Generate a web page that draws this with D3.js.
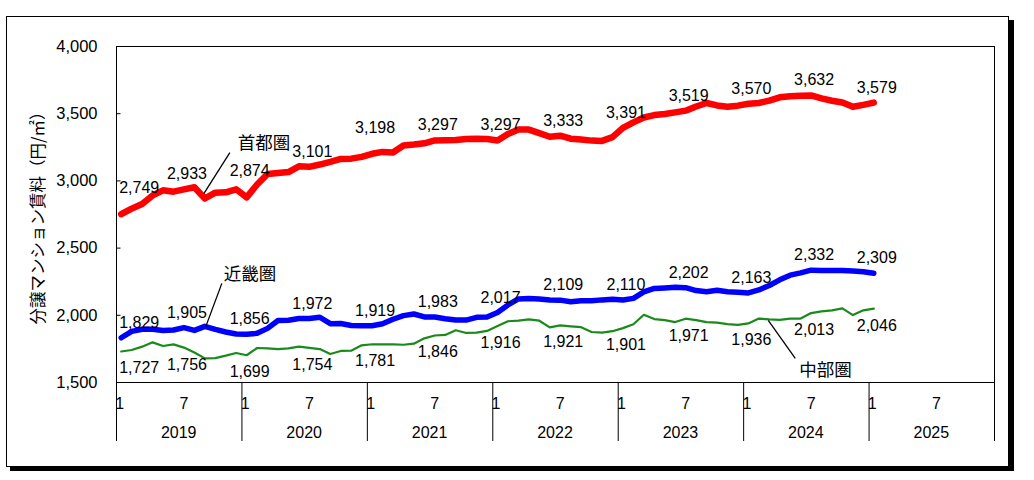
<!DOCTYPE html>
<html><head><meta charset="utf-8">
<script src="https://cdn.jsdelivr.net/npm/d3@7"></script>
<style>
html,body{margin:0;padding:0;background:#fff;}
svg{display:block;}
</style></head>
<body>
<svg id="c" width="1034" height="480"></svg>
<script>
// ---- data ----
const years = [2019, 2020, 2021, 2022, 2023, 2024, 2025];
const monthTicks = [1, 7];
const yTicks = [1500, 2000, 2500, 3000, 3500, 4000];
const yTitle = "分譲マンション賃料（円/㎡）";
const seriesNames = ["首都圏", "近畿圏", "中部圏"];

// monthly values Jan 2019 .. Jan 2025
const shutoken = [
  2749, 2790, 2825, 2888, 2926, 2916, 2933, 2949, 2865, 2909, 2911, 2934,
  2874, 2970, 3048, 3055, 3062, 3105, 3101, 3118, 3138, 3160, 3162, 3175,
  3198, 3212, 3208, 3260, 3267, 3276, 3297, 3298, 3300, 3308, 3310, 3308,
  3297, 3345, 3378, 3378, 3352, 3325, 3333, 3310, 3304, 3296, 3294, 3322,
  3391, 3432, 3468, 3486, 3494, 3506, 3519, 3550, 3576, 3558, 3548, 3556,
  3570, 3576, 3594, 3618, 3626, 3629, 3632, 3610, 3593, 3580, 3548, 3562,
  3579
];
const kinki = [
  1829, 1877, 1892, 1892, 1884, 1887, 1905, 1884, 1914, 1892, 1872, 1857,
  1856, 1862, 1899, 1958, 1960, 1973, 1972, 1982, 1934, 1935, 1920, 1919,
  1919, 1933, 1967, 1994, 2006, 1984, 1983, 1971, 1961, 1961, 1981, 1984,
  2017, 2073, 2118, 2122, 2118, 2110, 2109, 2097, 2104, 2104, 2111, 2116,
  2110, 2122, 2170, 2196, 2200, 2205, 2202, 2180, 2172, 2182, 2172, 2168,
  2163, 2185, 2218, 2260, 2295, 2312, 2332, 2330, 2330, 2330, 2326, 2320,
  2309
];
const chubu = [
  1727, 1738, 1763, 1795, 1768, 1780, 1756, 1720, 1676, 1678, 1696, 1716,
  1699, 1753, 1750, 1745, 1750, 1763, 1754, 1745, 1708, 1731, 1733, 1773,
  1781, 1780, 1780, 1777, 1785, 1825, 1846, 1850, 1885, 1865, 1868, 1880,
  1916, 1952, 1957, 1966, 1956, 1906, 1921, 1914, 1908, 1872, 1868, 1878,
  1901, 1930, 2000, 1968, 1960, 1946, 1971, 1960, 1946, 1942, 1930, 1925,
  1936, 1972, 1966, 1962, 1972, 1972, 2013, 2025, 2033, 2048, 1998, 2033,
  2046
];
// labels shown at January and July
const labelEvery = 6;

// ---- layout ----
const svg = d3.select("#c");
const L = 116, R = 994, T = 46, B = 382;
const numFont = "'Liberation Sans', Arial, sans-serif";
const jpFont = "'Noto Sans CJK JP', sans-serif";

// outer frame with shadow
svg.append("rect").attr("x", 10).attr("y", 20).attr("width", 1004).attr("height", 451).attr("fill", "#000");
svg.append("rect").attr("x", 6.5).attr("y", 16.5).attr("width", 1002).attr("height", 450)
  .attr("fill", "#fff").attr("stroke", "#000").attr("stroke-width", 1);

const nMonths = years.length * 12;
const x = d3.scaleBand().domain(d3.range(nMonths)).range([L, R]).paddingInner(0).paddingOuter(0);
const cx = i => x(i) + x.bandwidth() / 2;
const y = d3.scaleLinear().domain([1500, 4000]).range([B, T]);

// plot frame
svg.append("rect").attr("x", L + 0.5).attr("y", T + 0.5).attr("width", R - L).attr("height", B - T)
  .attr("fill", "none").attr("stroke", "#000").attr("stroke-width", 1);

// y axis
const yAxis = d3.axisLeft(y).tickValues(yTicks).tickSize(-4).tickPadding(19)
  .tickFormat(d3.format(","));
const gy = svg.append("g").attr("transform", `translate(${L + 0.5},0)`).call(yAxis);
gy.select(".domain").remove();
gy.selectAll(".tick line").attr("stroke", "#000");
gy.selectAll(".tick text").attr("font-family", numFont).attr("font-size", 16.5).attr("fill", "#000");

// y title
svg.append("text")
  .attr("transform", `translate(44,${(T + B) / 2}) rotate(-90)`)
  .attr("text-anchor", "middle").attr("font-family", jpFont).attr("font-size", 16.5).attr("fill", "#000")
  .text(yTitle);

// x axis: month labels, year dividers, year labels
const monthIdx = [];
years.forEach((yr, k) => monthTicks.forEach(m => monthIdx.push(k * 12 + m - 1)));
svg.append("g").selectAll("text").data(monthIdx).join("text")
  .attr("x", d => cx(d) - (d % 12 === 0 ? 1.5 : 0)).attr("y", 409).attr("text-anchor", "middle")
  .attr("font-family", numFont).attr("font-size", 16).attr("fill", "#000")
  .text(d => (d % 12) + 1);
const yearB = d3.range(years.length + 1).map(k => k * 12);
svg.append("g").selectAll("line").data(yearB).join("line")
  .attr("x1", d => (d < nMonths ? x(d) : R) + 0.5).attr("x2", d => (d < nMonths ? x(d) : R) + 0.5)
  .attr("y1", B).attr("y2", 441).attr("stroke", "#000").attr("stroke-width", 1);
svg.append("g").selectAll("text").data(years).join("text")
  .attr("x", (d, k) => (x(k * 12) + (k * 12 + 12 < nMonths ? x(k * 12 + 12) : R)) / 2)
  .attr("y", 438).attr("text-anchor", "middle")
  .attr("font-family", numFont).attr("font-size", 16).attr("fill", "#000")
  .text(d => d);

// lines
const line = d3.line().x((d, i) => cx(i)).y(d => y(d));
const series = [
  {name: seriesNames[0], data: shutoken, color: "#ff0000", width: 6.5, dy: -10},
  {name: seriesNames[1], data: kinki, color: "#0000ff", width: 5.5, dy: -10},
  {name: seriesNames[2], data: chubu, color: "#1a8a1a", width: 2.2, dy: 22}
];
series.forEach(s => {
  svg.append("path").datum(s.data).attr("d", line)
    .attr("fill", "none").attr("stroke", s.color).attr("stroke-width", s.width)
    .attr("stroke-linejoin", "round").attr("stroke-linecap", "round");
});

// data labels
const fmt = d3.format(",");
series.forEach((s, si) => {
  const idx = d3.range(0, s.data.length, labelEvery);
  svg.append("g").selectAll("text").data(idx).join("text")
    .attr("x", i => cx(i) + (i === 0 ? 18 : 3))
    .attr("y", i => {
      let dy = s.dy;
      if (si === 0 && (i === 0 || i === 12 || i === 24)) dy = -21;
      return y(s.data[i]) + dy;
    })
    .attr("text-anchor", "middle").attr("font-family", numFont).attr("font-size", 16).attr("fill", "#000")
    .text(i => fmt(s.data[i]));
});

// series name annotations with leader lines
const notes = [
  {s: 0, i: 8, p0: [-1, -5], p1: [25, -46], t: [33, -50]},
  {s: 1, i: 8, p0: [1, 0], p1: [17, -43], t: [19, -46]},
  {s: 2, i: 62, p0: [-1, 1], p1: [26, 39], t: [30, 57]}
];
notes.forEach(n => {
  const s = series[n.s];
  const px = cx(n.i), py = y(s.data[n.i]);
  svg.append("line").attr("x1", px + n.p0[0]).attr("y1", py + n.p0[1])
    .attr("x2", px + n.p1[0]).attr("y2", py + n.p1[1]).attr("stroke", "#000").attr("stroke-width", 1.3);
  svg.append("text").attr("x", px + n.t[0]).attr("y", py + n.t[1])
    .attr("font-family", jpFont).attr("font-size", 17.5).attr("fill", "#000").text(s.name);
});
</script>
</body></html>
